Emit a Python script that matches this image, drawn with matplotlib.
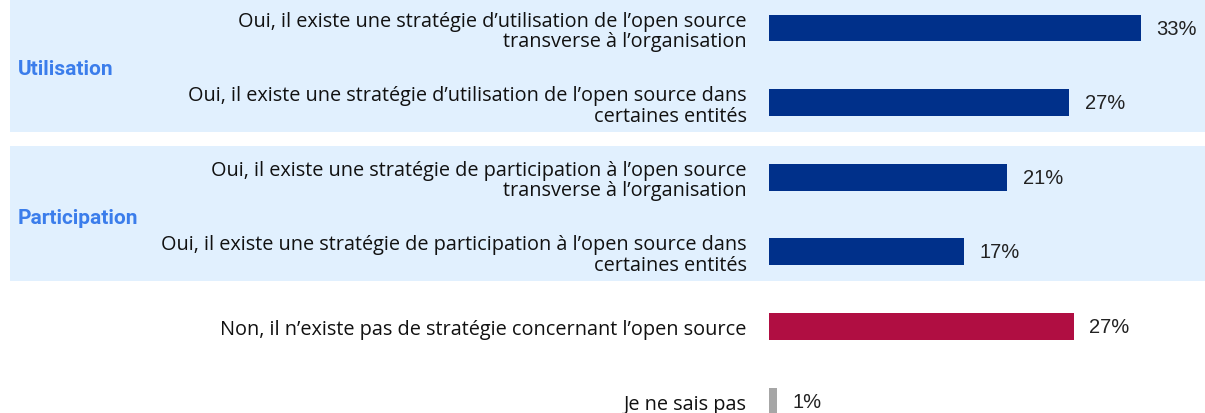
import numpy as np
import matplotlib
matplotlib.use("Agg")
import matplotlib.pyplot as plt
from matplotlib.patches import Rectangle
from matplotlib.transforms import blended_transform_factory

plt.rcParams.update({
    "font.family": ["Open Sans", "DejaVu Sans"],
    "figure.facecolor": "white",
})

# ---- data --------------------------------------------------------------
labels = [
    "Oui, il existe une stratégie d’utilisation de l’open source\ntransverse à l’organisation",
    "Oui, il existe une stratégie d’utilisation de l’open source dans\ncertaines entités",
    "Oui, il existe une stratégie de participation à l’open source\ntransverse à l’organisation",
    "Oui, il existe une stratégie de participation à l’open source dans\ncertaines entités",
    "Non, il n’existe pas de stratégie concernant l’open source",
    "Je ne sais pas",
]
values = [32.9, 26.6, 21.1, 17.3, 27.0, 0.7]
shown = ["33%", "27%", "21%", "17%", "27%", "1%"]
kinds = ["oui", "oui", "oui", "oui", "non", "nsp"]
groups = ["Utilisation", "Participation"]
group_rows = [(0, 1), (2, 3)]

NAVY, CRIMSON, GREY = "#00308A", "#B00E42", "#A6A6A6"
BAND, GROUP_BLUE = "#E1F0FE", "#3B7DEB"
colors = {"oui": NAVY, "non": CRIMSON, "nsp": GREY}

W, H = 1205, 414
fig = plt.figure(figsize=(W / 100, H / 100), dpi=100)
ax = fig.add_axes([769 / W, 0, 1 - 769 / W, 1])
ax.patch.set_visible(False)

y = np.arange(len(values))
ax.barh(y, values, height=0.36, color=[colors[k] for k in kinds], zorder=3)
ax.set_xlim(0, 38.6)
ax.set_ylim(5.16, -0.389)

for yi, v, s in zip(y, values, shown):
    ax.annotate(s, (v, yi), xytext=(11, 0), textcoords="offset points",
                va="center", ha="left", fontsize=14.5, color="#222222",
                family=["Liberation Sans"])

ax.set_yticks(y)
ax.set_yticklabels(labels, fontsize=14.3, color="#111111", ha="right",
                   linespacing=1.05)
ax.tick_params(axis="y", length=0, pad=16)
ax.set_xticks([])
for sp in ax.spines.values():
    sp.set_visible(False)

# shaded group bands + group names
trans = blended_transform_factory(fig.transFigure, ax.transData)
for name, (a, b) in zip(groups, group_rows):
    ax.add_patch(Rectangle((10 / W, a - 0.42), 1 - 10 / W, (b - a) + 0.81,
                           transform=trans, facecolor=BAND, edgecolor="none",
                           clip_on=False, zorder=0))
    ax.text(18 / W, (a + b) / 2 + 0.04, name, transform=trans, ha="left",
            va="center", fontsize=15, fontweight="bold", color=GROUP_BLUE,
            family=["Roboto", "DejaVu Sans"])

fig.savefig("out.png", dpi=100)
